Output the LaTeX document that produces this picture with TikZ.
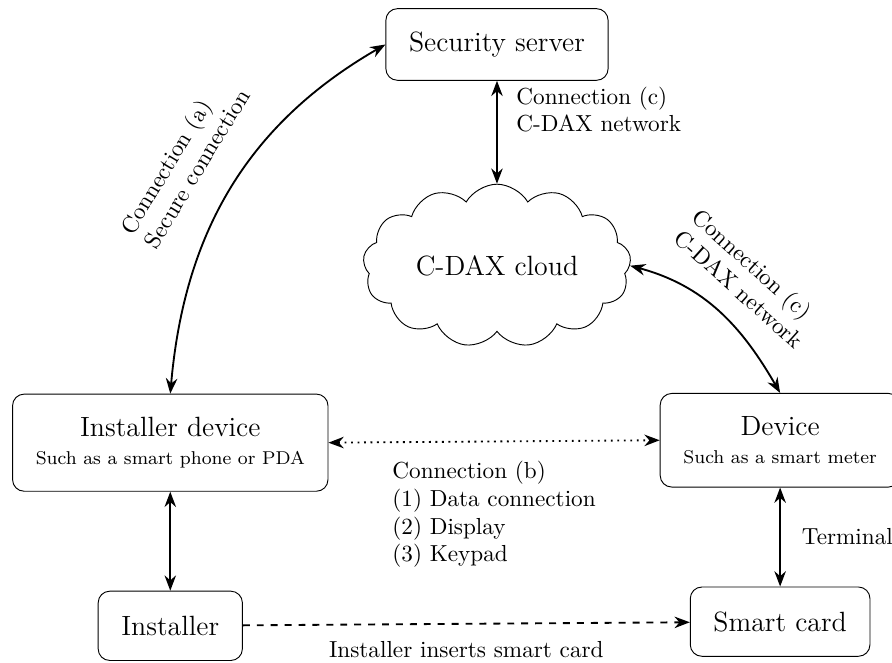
\documentclass[tikz,border=0pt]{standalone}
\usepackage{amsmath}
\usepackage{tikz}
\usetikzlibrary{positioning,arrows.meta,shapes.symbols}

\begin{document}
\begin{tikzpicture}[
  >=Stealth,
  node distance=1.5cm and 1cm,
  every node/.style={align=center},
  box/.style={draw, rounded corners=5pt, font=\large, inner sep=10pt, minimum height=1.05cm, line width=0.4pt},
  cdaxcloud/.style={draw, cloud, cloud puffs=13, cloud puff arc=120, cloud ignores aspect, minimum width=4.06cm, minimum height=2.47cm, font=\large, line width=0.4pt},
  e/.style={<->, thick},
  el/.style={align=left, inner sep=3pt}
]
\useasboundingbox (-7.53,0.674) rectangle (5.985,-9.371);
\node[box] (server) {Security server};
\node[cdaxcloud, below=1.56cm of server] (cdax) {C-DAX cloud};
\node[box, font=\normalsize, below=4.74cm of server, xshift=-4.95cm] (instdev) {{\large Installer device}\\{\footnotesize Such as a smart phone or PDA}};
\node[box, font=\normalsize, below=4.73cm of server, xshift=4.29cm] (device) {{\large Device}\\{\footnotesize Such as a smart meter}};
\node[box, below=of instdev] (installer) {Installer};
\node[box, below=of device] (card) {Smart card};

\draw[e] (instdev.north) to[out=85, in=210] node[el, midway, sloped, above=10pt]{Connection (a)\\Secure connection} (server.west);
\draw[e] (server) -- node[el, pos=0.28, right=5pt]{Connection (c)\\C-DAX network} (cdax);
\draw[e] (cdax.east) to[out=-15, in=120] node[el, midway, sloped, above=6pt]{Connection (c)\\C-DAX network} (device.north);
\draw[e, dotted] (instdev.east) -- node[el, midway, below=5pt]{Connection (b)\\(1) Data connection\\(2) Display\\(3) Keypad} (device.west);
\draw[e] (instdev) -- (installer);
\draw[e] (device) -- node[el, midway, right=6pt]{Terminal} (card);
\draw[->, thick, dashed] (installer) -- node[el, midway, below=4pt]{Installer inserts smart card} (card);
\end{tikzpicture}
\end{document}
